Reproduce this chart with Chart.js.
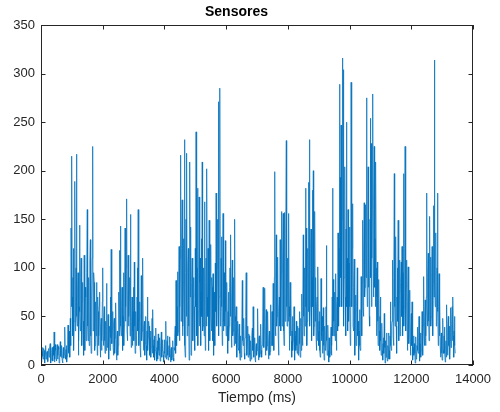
<!DOCTYPE html>
<html>
<head>
<meta charset="utf-8">
<script src="https://cdn.jsdelivr.net/npm/chart.js@4/dist/chart.umd.min.js"></script>
<style>
  html, body { margin: 0; padding: 0; background: #fff; }
  #myChart { display: block; }
</style>
</head>
<body>
<canvas id="myChart" width="500" height="412"></canvas>
<script>
// sensor readings, one every 12.5 ms starting at 0 ms
const pasoMs = 12.5;
const lecturas = [
  12,5, 3,14, 18,9, 6,17, 15,4, 2,11, 20,6, 8,13, 14,3, 4,16, 17,8, 9,19, 22,2, 5,12, 13,18, 7,4, 19,10, 34,3, 6,21, 15,7,
  4,15, 21,6, 10,19, 16,2, 3,12, 24,9, 8,20, 13,5, 2,14, 18,7, 11,22, 39,10, 6,16, 20,3, 9,25, 41,12, 14,35, 30,8, 48,20, 141,60,
  215,70, 30,90, 120,15, 45,80, 189,35, 60,100, 217,50, 40,75, 95,10, 25,60, 144,55, 35,90, 110,30, 20,65, 85,40, 45,10, 113,50, 15,80, 70,25, 30,95,
  160,40, 25,70, 90,20, 40,105, 129,30, 12,60, 70,110, 225,35, 50,95, 85,15, 20,50, 65,30, 85,45, 10,70, 55,20, 30,60, 75,25, 8,40, 48,15, 25,65,
  100,30, 20,45, 60,25, 12,38, 45,15, 84,30, 18,40, 52,20, 6,35, 40,15, 70,28, 119,45, 22,38, 55,18, 10,42, 48,12, 28,50, 64,20, 5,25, 35,10,
  20,50, 75,30, 118,55, 143,40, 30,60, 80,25, 15,50, 95,20, 40,85, 141,45, 60,100, 171,35, 25,70, 113,40, 50,75, 90,30, 155,60, 18,45, 70,20, 35,55,
  80,25, 106,40, 12,45, 55,20, 30,70, 100,35, 160,55, 20,48, 65,18, 8,40, 92,25, 35,60, 110,30, 15,38, 45,10, 22,42, 50,20, 5,35, 70,15, 28,45,
  40,20, 10,28, 35,8, 18,30, 48,12, 57,20, 8,26, 30,5, 15,24, 38,14, 4,18, 25,6, 32,15, 10,22, 28,4, 6,20, 34,8, 15,26, 22,10, 3,14,
  26,12, 8,22, 45,6, 12,25, 30,10, 5,16, 20,8, 29,12, 3,15, 18,5, 9,20, 25,7, 4,18, 15,28, 40,12, 87,45, 20,60, 96,30, 35,75, 122,25,
  60,110, 216,45, 90,120, 170,30, 40,85, 130,60, 232,20, 8,95, 150,50, 218,30, 70,100, 120,40, 5,80, 209,70, 142,10, 45,85, 110,55, 25,70, 90,35, 60,15,
  120,60, 240,45, 30,100, 182,20, 55,95, 173,40, 85,110, 20,75, 130,50, 209,35, 40,95, 100,30, 168,60, 15,85, 110,40, 202,70, 50,120, 90,15, 149,60, 25,95,
  124,50, 35,90, 80,25, 94,40, 10,75, 60,20, 105,55, 177,60, 40,100, 150,80, 271,30, 70,150, 285,40, 55,110, 132,60, 20,100, 156,35, 45,95, 90,40, 128,55,
  30,70, 85,40, 12,55, 75,25, 40,80, 100,50, 134,45, 18,70, 108,30, 35,90, 70,20, 150,50, 22,45, 60,25, 8,35, 45,18, 15,30, 42,12, 5,25, 30,8,
  12,40, 87,25, 20,38, 48,12, 6,28, 35,50, 95,30, 10,25, 40,8, 18,32, 30,10, 4,20, 25,6, 12,30, 38,15, 60,20, 8,22, 28,6, 3,16, 22,10,
  15,35, 58,20, 5,26, 30,8, 12,30, 42,15, 8,20, 25,40, 80,30, 18,45, 79,25, 10,35, 57,15, 20,40, 55,18, 6,25, 35,10, 14,40, 62,20, 25,55,
  40,20, 84,35, 15,90, 199,45, 30,75, 134,40, 50,95, 111,30, 10,55, 70,40, 129,50, 35,95, 158,40, 60,105, 156,35, 20,80, 157,45, 80,140, 231,60, 40,110,
  100,45, 156,60, 15,50, 85,30, 74,25, 8,35, 50,15, 25,40, 60,20, 5,30, 35,15, 45,20, 12,30, 40,10, 20,38, 55,22, 8,30, 48,15, 73,35, 20,60,
  134,50, 30,85, 100,40, 182,60, 141,20, 45,95, 120,55, 188,70, 232,40, 60,120, 140,35, 25,90, 180,60, 200,30, 40,110, 158,45, 90,30, 15,60, 70,25, 101,35,
  20,45, 55,15, 8,40, 89,25, 30,50, 12,35, 59,20, 5,30, 40,15, 18,60, 123,25, 10,30, 41,15, 3,28, 25,8, 12,30, 39,10, 20,70, 182,30, 88,45,
  30,75, 60,25, 94,45, 15,60, 70,35, 136,80, 40,120, 289,60, 193,90, 247,130, 60,150, 316,100, 304,40, 90,150, 204,70, 30,140, 250,60, 110,35, 160,80, 45,105,
  142,60, 20,110, 291,80, 60,120, 166,40, 35,80, 109,30, 10,55, 72,20, 25,60, 100,30, 45,15, 5,35, 57,20, 15,50, 91,40, 30,85, 149,60, 50,110, 167,70,
  80,120, 165,90, 275,100, 60,140, 204,80, 129,50, 40,150, 254,90, 228,60, 110,170, 279,110, 70,160, 225,80, 130,60, 209,100, 30,70, 106,45, 20,60, 88,35, 15,50,
  70,25, 10,35, 43,15, 5,22, 28,12, 53,18, 2,25, 20,8, 33,12, 4,20, 18,6, 33,15, 6,30, 65,20, 15,40, 45,70, 108,30, 20,90, 197,60, 40,100,
  132,40, 12,70, 100,45, 149,60, 25,75, 108,30, 40,85, 106,50, 122,55, 30,95, 197,40, 60,120, 225,50, 35,80, 108,45, 15,65, 101,40, 22,55, 77,30, 10,35,
  53,20, 65,25, 5,18, 30,10, 22,12, 2,15, 29,6, 8,20, 39,15, 12,28, 50,18, 4,22, 33,8, 15,30, 55,20, 10,40, 91,35, 20,45, 67,20, 30,70,
  177,60, 40,90, 115,45, 25,80, 153,55, 111,40, 50,95, 122,35, 30,85, 164,70, 314,90, 60,110, 136,40, 45,100, 177,55, 20,60, 94,30, 67,20, 8,25, 33,12,
  5,22, 48,15, 12,30, 39,12, 3,20, 25,8, 62,25, 10,35, 50,20, 18,40, 6,25, 59,18, 20,42, 60,25, 70,30, 8,35, 50,20, 12
];

const xTicks = [0, 2000, 4000, 6000, 8000, 10000, 12000, 14000];
const yTicks = [0, 50, 100, 150, 200, 250, 300, 350];

const colorEjes = "#262626";
Chart.defaults.font.family = "'Liberation Sans', Arial, sans-serif";
Chart.defaults.color = colorEjes;

var puntos = lecturas.map(function (v, i) {
  return { x: i * pasoMs, y: v };
});

// matlab style box with inward ticks on all four sides
const cajaMatlab = {
  id: "cajaMatlab",
  afterDatasetsDraw: function (chart) {
    var ctx = chart.ctx;
    var a = chart.chartArea;
    var sx = chart.scales.x;
    var sy = chart.scales.y;
    var largo = 4.5;
    ctx.save();
    ctx.strokeStyle = colorEjes;
    ctx.lineWidth = 1;
    ctx.strokeRect(Math.round(a.left) + 0.5, Math.round(a.top) + 0.5,
      Math.round(a.right - a.left) - 1, Math.round(a.bottom - a.top) - 1);
    ctx.beginPath();
    xTicks.forEach(function (t) {
      var px = Math.round(sx.getPixelForValue(t)) + 0.5;
      ctx.moveTo(px, a.bottom);
      ctx.lineTo(px, a.bottom - largo);
      ctx.moveTo(px, a.top);
      ctx.lineTo(px, a.top + largo);
    });
    yTicks.forEach(function (t) {
      var py = Math.round(sy.getPixelForValue(t)) + 0.5;
      ctx.moveTo(a.left, py);
      ctx.lineTo(a.left + largo, py);
      ctx.moveTo(a.right, py);
      ctx.lineTo(a.right - largo, py);
    });
    ctx.stroke();
    ctx.restore();
  }
};

new Chart("myChart", {
  type: "line",
  data: {
    datasets: [{
      label: "Sensores",
      data: puntos,
      borderColor: "#0072BD",
      borderWidth: 0.75,
      pointRadius: 0,
      tension: 0,
      fill: false
    }]
  },
  options: {
    responsive: false,
    animation: false,
    layout: { padding: { top: 0, right: 27, bottom: 0, left: 0 } },
    plugins: {
      legend: { display: false },
      tooltip: { enabled: false },
      title: {
        display: true,
        text: "Sensores",
        color: "#000",
        font: { size: 14, weight: "bold" },
        padding: { top: 3.6, bottom: 4.6 }
      }
    },
    scales: {
      x: {
        type: "linear",
        min: 0,
        max: 14000,
        afterBuildTicks: function (s) { s.ticks = xTicks.map(function (v) { return { value: v }; }); },
        afterFit: function (s) { s.height = 47; },
        grid: { display: false, drawTicks: false },
        border: { display: false },
        ticks: {
          font: { size: 13 },
          padding: 7,
          maxRotation: 0,
          autoSkip: false,
          callback: function (v) { return String(v); }
        },
        title: {
          display: true,
          text: "Tiempo (ms)",
          font: { size: 14 },
          padding: { top: 0, bottom: 5.6 }
        }
      },
      y: {
        min: 0,
        max: 350,
        afterBuildTicks: function (s) { s.ticks = yTicks.map(function (v) { return { value: v }; }); },
        afterFit: function (s) { s.width = 41; },
        grid: { display: false, drawTicks: false },
        border: { display: false },
        ticks: { font: { size: 13 }, padding: 6, callback: function (v) { return String(v); } }
      }
    }
  },
  plugins: [cajaMatlab]
});
</script>
</body>
</html>
